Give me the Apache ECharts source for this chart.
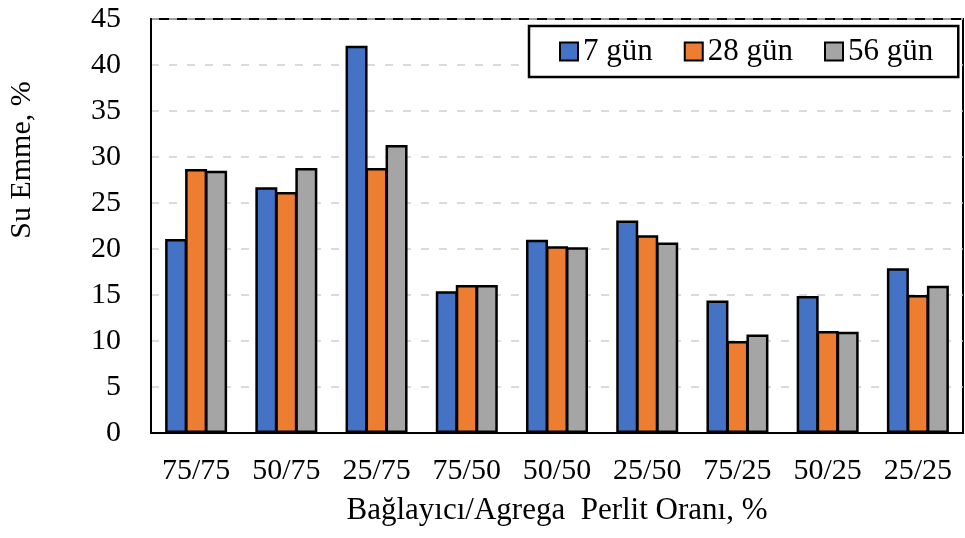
<!DOCTYPE html>
<html>
<head>
<meta charset="utf-8">
<script src="https://cdn.jsdelivr.net/npm/echarts@6/dist/echarts.min.js"></script>
<style>html,body{margin:0;padding:0;background:#fff}#c{width:965px;height:538px}</style>
</head>
<body>
<div id="c"></div>
<script>
const categories = ['75/75','50/75','25/75','75/50','50/50','25/50','75/25','50/25','25/25'];
const seriesNames = ['7 gün','28 gün','56 gün'];
const gun7  = [21.1, 26.7, 42.1, 15.4, 21.0, 23.1, 14.4, 14.9, 17.9];
const gun28 = [28.7, 26.2, 28.8, 16.1, 20.3, 21.5, 10.0, 11.1, 15.0];
const gun56 = [28.5, 28.8, 31.3, 16.1, 20.2, 20.7, 10.7, 11.0, 16.0];
const yTicks = { min: 0, max: 45, interval: 5 };
const xTitle = 'Bağlayıcı/Agrega  Perlit Oranı, %';
const yTitle = 'Su Emme, %';

const FONT = "'Liberation Serif', 'Times New Roman', serif";
const colors = ['#4472C4', '#ED7D31', '#A5A5A5'];
const values = [gun7, gun28, gun56];

const chart = echarts.init(document.getElementById('c'), null, { renderer: 'canvas' });
chart.setOption({
  animation: false,
  backgroundColor: '#fff',
  grid: { left: 151, right: 2, top: 19, bottom: 105, show: true, borderColor: '#000', borderWidth: 2, backgroundColor: 'transparent' },
  legend: {
    left: 529, top: 26,
    padding: [10, 25, 10, 30],
    borderColor: '#000', borderWidth: 2.5,
    backgroundColor: '#fff',
    icon: 'rect',
    itemWidth: 18, itemHeight: 18, itemGap: 31, itemTextGap: 6,
    textStyle: { fontFamily: FONT, fontSize: 31, color: '#000' },
    data: seriesNames
  },
  xAxis: {
    type: 'category',
    data: categories,
    axisLine: { lineStyle: { color: '#000', width: 2 } },
    axisTick: { show: false },
    axisLabel: { fontFamily: FONT, fontSize: 30, color: '#000', margin: 23 },
    name: xTitle,
    nameLocation: 'middle',
    nameGap: 62,
    nameTextStyle: { fontFamily: FONT, fontSize: 31, color: '#000' }
  },
  yAxis: {
    type: 'value',
    min: yTicks.min, max: yTicks.max, interval: yTicks.interval,
    axisLine: { show: true, lineStyle: { color: '#000', width: 2 } },
    axisTick: { show: false },
    axisLabel: { fontFamily: FONT, fontSize: 30, color: '#000', margin: 30 },
    splitLine: { show: true, lineStyle: { color: '#CFCFCF', width: 1.5, type: [8, 10] } }
  },
  graphic: [{
    type: 'text',
    x: 22, y: 160,
    rotation: Math.PI / 2,
    style: { text: yTitle, fontFamily: FONT, fontSize: 30, fill: '#000', align: 'center', verticalAlign: 'middle' }
  }],
  series: seriesNames.map((n, i) => ({
    name: n,
    type: 'bar',
    data: values[i],
    barWidth: 22,
    barGap: '-9.1%',
    itemStyle: { color: colors[i], borderColor: '#000', borderWidth: 2.5 }
  }))
});
</script>
</body>
</html>
